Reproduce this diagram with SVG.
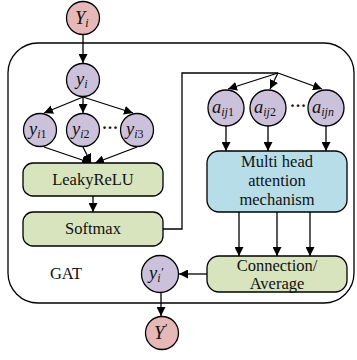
<svg xmlns="http://www.w3.org/2000/svg" width="357" height="360" viewBox="0 0 357 360">
<style>
.c{stroke:#000;stroke-width:1.3}
.pk{fill:#e6b9b8}
.pu{fill:#ccc1da}
.gr{fill:#d7e4bd;stroke:#000;stroke-width:1.3}
.bl{fill:#b7dee8;stroke:#000;stroke-width:1.3}
.ln{fill:none;stroke:#000;stroke-width:1.3}
text{font-family:"Liberation Serif",serif;fill:#111}
.m{font-style:italic;font-size:18.5px}
.s{font-size:12px}
.t{font-size:16.5px;text-anchor:middle}
</style>
<defs>
<marker id="ah" viewBox="0 0 10 10" refX="10" refY="5" markerWidth="9" markerHeight="9" markerUnits="userSpaceOnUse" orient="auto">
<path d="M0,0 L10,5 L0,10 z" fill="#000"/>
</marker>
</defs>
<rect id="gat" x="8" y="43" width="346" height="260" rx="30" ry="30" class="ln"/>
<g id="connectors">
<line x1="83" y1="34" x2="83" y2="63" class="ln" marker-end="url(#ah)"/>
<line x1="83" y1="97" x2="44" y2="113" class="ln" marker-end="url(#ah)"/>
<line x1="83" y1="97" x2="83" y2="113" class="ln" marker-end="url(#ah)"/>
<line x1="83" y1="97" x2="133" y2="113" class="ln" marker-end="url(#ah)"/>
<line x1="44" y1="147" x2="91" y2="163" class="ln" marker-end="url(#ah)"/>
<line x1="83" y1="147" x2="91" y2="163" class="ln" marker-end="url(#ah)"/>
<line x1="137" y1="147" x2="95" y2="163" class="ln" marker-end="url(#ah)"/>
<line x1="93" y1="196" x2="93" y2="212" class="ln" marker-end="url(#ah)"/>
<polyline points="163,229 182,229 182,73 278,73" class="ln"/>
<line x1="278" y1="73" x2="228" y2="89" class="ln" marker-end="url(#ah)"/>
<line x1="278" y1="73" x2="270" y2="89" class="ln" marker-end="url(#ah)"/>
<line x1="278" y1="73" x2="322" y2="89" class="ln" marker-end="url(#ah)"/>
<line x1="226" y1="126" x2="226" y2="151" class="ln" marker-end="url(#ah)"/>
<line x1="268" y1="126" x2="268" y2="151" class="ln" marker-end="url(#ah)"/>
<line x1="326" y1="126" x2="326" y2="151" class="ln" marker-end="url(#ah)"/>
<line x1="239" y1="212" x2="239" y2="256" class="ln" marker-end="url(#ah)"/>
<line x1="277" y1="212" x2="277" y2="256" class="ln" marker-end="url(#ah)"/>
<line x1="310" y1="212" x2="310" y2="256" class="ln" marker-end="url(#ah)"/>
<line x1="207" y1="274" x2="179" y2="274" class="ln" marker-end="url(#ah)"/>
<line x1="161" y1="292" x2="161" y2="316" class="ln" marker-end="url(#ah)"/>
</g>
<g id="Yi"><circle cx="83" cy="18" r="16.5" class="c pk"/><text x="75" y="24" class="m">Y<tspan class="s" dy="3">i</tspan></text></g>
<g id="yi"><circle cx="83" cy="80" r="16.5" class="c pu"/><text x="76" y="85" class="m">y<tspan class="s" dy="3">i</tspan></text></g>
<g id="yi1"><circle cx="40" cy="130" r="16.5" class="c pu"/><text x="29" y="135" class="m">y<tspan class="s" dy="3">i</tspan><tspan class="s" font-style="normal">1</tspan></text></g>
<g id="yi2"><circle cx="83" cy="130" r="16.5" class="c pu"/><text x="72" y="135" class="m">y<tspan class="s" dy="3">i</tspan><tspan class="s" font-style="normal">2</tspan></text></g>
<text x="110" y="133" class="t" font-weight="bold">···</text>
<g id="yi3"><circle cx="137" cy="130" r="16.5" class="c pu"/><text x="126" y="135" class="m">y<tspan class="s" dy="3">i</tspan><tspan class="s" font-style="normal">3</tspan></text></g>
<g id="leaky"><rect x="23" y="163" width="140" height="33" rx="10" class="gr"/><text x="93" y="185" class="t">LeakyReLU</text></g>
<g id="softmax"><rect x="23" y="212" width="140" height="34" rx="10" class="gr"/><text x="93" y="234" class="t">Softmax</text></g>
<text x="66" y="279" class="t">GAT</text>
<g id="aij1"><circle cx="226" cy="108" r="18" class="c pu"/><text x="212" y="113" class="m">a<tspan class="s" dy="3">ij</tspan><tspan class="s" font-style="normal">1</tspan></text></g>
<g id="aij2"><circle cx="268" cy="108" r="18" class="c pu"/><text x="254" y="113" class="m">a<tspan class="s" dy="3">ij</tspan><tspan class="s" font-style="normal">2</tspan></text></g>
<text x="298" y="111" class="t" font-weight="bold">···</text>
<g id="aijn"><circle cx="326" cy="108" r="18" class="c pu"/><text x="312" y="113" class="m">a<tspan class="s" dy="3">ijn</tspan></text></g>
<g id="multi"><rect x="207" y="151" width="140" height="61" rx="12" class="bl"/><text x="277" y="167" class="t">Multi head</text><text x="277" y="186" class="t">attention</text><text x="277" y="205" class="t">mechanism</text></g>
<g id="conn"><rect x="207" y="256" width="140" height="36" rx="12" class="gr"/><text x="277" y="271" class="t">Connection/</text><text x="277" y="289" class="t">Average</text></g>
<g id="yip"><circle cx="160" cy="274" r="18.5" class="c pu"/><text x="149" y="279" class="m">y<tspan class="s" dy="3">i</tspan><tspan class="s" dy="-6">′</tspan></text></g>
<g id="Yp"><circle cx="162" cy="333" r="16.5" class="c pk"/><text x="154" y="339" class="m">Y<tspan class="s" dy="-7">ʹ</tspan></text></g>
</svg>
